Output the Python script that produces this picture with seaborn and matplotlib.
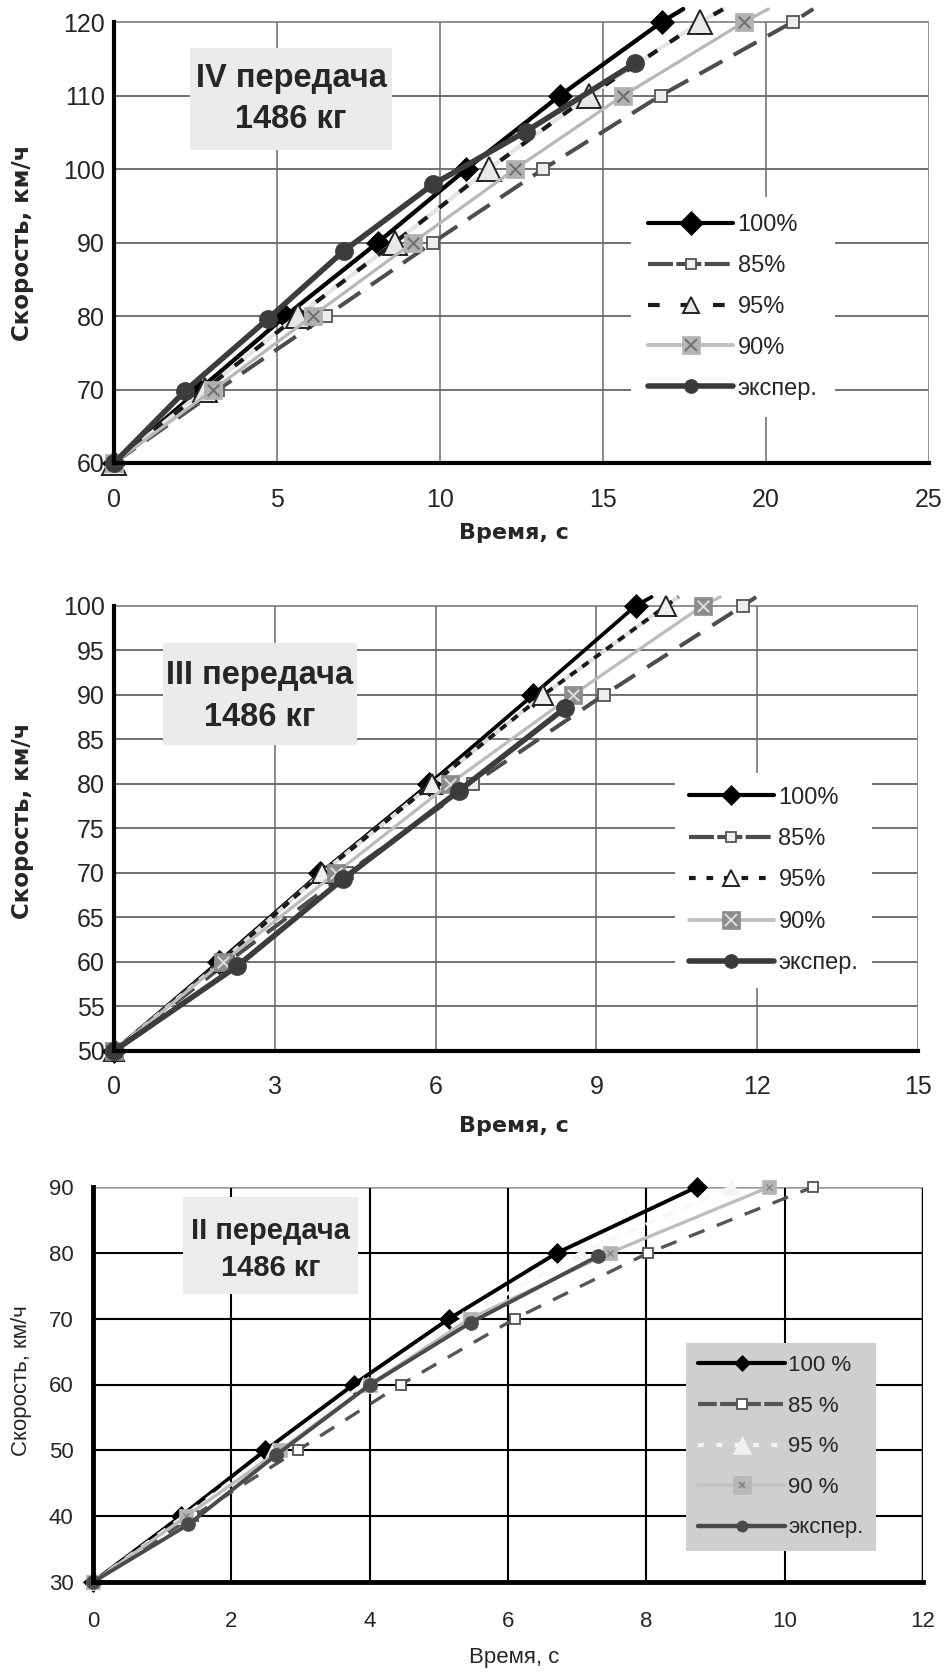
import numpy as np
import pandas as pd
import matplotlib
matplotlib.use("Agg")
import matplotlib.pyplot as plt
import seaborn as sns
from matplotlib.lines import Line2D
from matplotlib.patches import Rectangle
from matplotlib.legend_handler import HandlerTuple

# ---------------- data ----------------
series_names = ["100%", "85%", "95%", "90%", "экспер."]
series_names_ii = ["100 %", "85 %", "95 %", "90 %", "экспер."]

# IV gear (last value = where line leaves the plot area)
v_iv = [60, 70, 80, 90, 100, 110, 120, 121.77]
t_iv_100 = [0, 2.62, 5.26, 8.09, 10.81, 13.68, 16.80, 17.46]
t_iv_85 = [0, 3.20, 6.50, 9.78, 13.17, 16.77, 20.82, 21.45]
t_iv_95 = [0, 2.79, 5.63, 8.61, 11.50, 14.58, 17.98, 18.70]
t_iv_90 = [0, 3.05, 6.09, 9.17, 12.30, 15.62, 19.33, 20.07]
t_iv_exp = [0, 2.18, 4.72, 7.06, 9.78, 12.63, 15.98]
v_iv_exp = [60, 69.8, 79.6, 88.9, 97.9, 105.1, 114.4]

# III gear
v_iii = [50, 60, 70, 80, 90, 100, 101.0]
t_iii_100 = [0, 1.95, 3.85, 5.88, 7.82, 9.73, 10.03]
t_iii_85 = [0, 2.12, 4.35, 6.69, 9.14, 11.73, 11.98]
t_iii_95 = [0, 2.00, 3.88, 5.94, 8.01, 10.30, 10.53]
t_iii_90 = [0, 2.03, 4.14, 6.26, 8.56, 10.98, 11.31]
t_iii_exp = [0, 2.29, 4.27, 6.43, 8.41]
v_iii_exp = [50, 59.5, 69.3, 79.2, 88.5]

# II gear
v_ii = [30, 40, 50, 60, 70, 80, 90]
t_ii_100 = [0, 1.27, 2.49, 3.77, 5.15, 6.71, 8.73]
t_ii_85 = [0, 1.45, 2.96, 4.45, 6.10, 8.03, 10.41]
t_ii_95 = [0, 1.31, 2.60, 3.90, 5.35, 7.05, 9.23]
t_ii_90 = [0, 1.35, 2.70, 4.00, 5.45, 7.47, 9.78]
t_ii_exp = [0, 1.38, 2.65, 4.01, 5.46, 7.30]
v_ii_exp = [30, 38.75, 49.3, 60, 69.4, 79.5]

xticks_iv = [0, 5, 10, 15, 20, 25]
yticks_iv = [60, 70, 80, 90, 100, 110, 120]
xticks_iii = [0, 3, 6, 9, 12, 15]
yticks_iii = [50, 55, 60, 65, 70, 75, 80, 85, 90, 95, 100]
xticks_ii = [0, 2, 4, 6, 8, 10, 12]
yticks_ii = [30, 40, 50, 60, 70, 80, 90]

box_iv = ["IV передача", "1486 кг"]
box_iii = ["III передача", "1486 кг"]
box_ii = ["II передача", "1486 кг"]
xlabel = "Время, с"
ylabel = "Скорость, км/ч"

# ---------------- setup ----------------
W, H = 947, 1673
sns.set_style("white")
plt.rcParams["font.family"] = ["Liberation Sans", "DejaVu Sans"]

fig = plt.figure(figsize=(W / 100, H / 100), dpi=100)


def fx(p):
    return p / W


def fy(p):
    return 1 - p / H


def add_axes(l, r, t, b):
    return fig.add_axes([fx(l), fy(b), (r - l) / W, (b - t) / H])


def line(ax, t, v, color, lw, ls="-", marker=None, ms=0, mfc=None, mec=None,
         mew=0, every=None, z=3):
    sns.lineplot(x=t, y=v, ax=ax, sort=False, estimator=None, color=color,
                 lw=lw, linestyle=ls, marker=marker, markersize=ms,
                 markerfacecolor=mfc, markeredgecolor=mec,
                 markeredgewidth=mew, markevery=every, clip_on=False,
                 zorder=z, legend=False)


def frame(ax, xlim, xticks, ylim, yticks, top_tick, gcol_h, gcol_v, gcol_edge,
          glw, tick_fs, xpad, ypad, spine_lw):
    ax.set_xlim(*xlim)
    ax.set_ylim(*ylim)
    ax.set_xticks(xticks)
    ax.set_yticks(yticks)
    ax.tick_params(length=0, labelsize=tick_fs)
    ax.tick_params(axis="x", pad=xpad)
    ax.tick_params(axis="y", pad=ypad)
    for s in ["top", "right"]:
        ax.spines[s].set_visible(False)
    for s in ["left", "bottom"]:
        ax.spines[s].set_color("black")
        ax.spines[s].set_linewidth(spine_lw)
        ax.spines[s].set_zorder(6)
    ax.spines["left"].set_bounds(ylim[0], top_tick)
    ax.hlines(yticks[1:-1], xlim[0], xlim[1], color=gcol_h, lw=glw, zorder=0.5)
    ax.hlines([yticks[-1]], xlim[0], xlim[1], color=gcol_edge, lw=glw * 1.2, zorder=0.5)
    ax.vlines(xticks[1:-1], ylim[0], top_tick, color=gcol_v, lw=glw, zorder=0.5)
    ax.vlines([xticks[-1]], ylim[0], top_tick, color=gcol_edge, lw=glw * 1.2, zorder=0.5)
    ax.set_xlabel("")
    ax.set_ylabel("")


# ================= Panel 1: IV =================
ax1 = add_axes(114, 929, 9, 463)
frame(ax1, (0, 25), xticks_iv, (60, 121.77), yticks_iv, 120, "#4a4a4a",
      "#6a6a6a", "#8a8a8a", 1.1, 18, 18, 6.5, 3.0)
ev_iv = list(range(len(v_iv) - 1))

line(ax1, t_iv_100, v_iv, "black", 3.1, "-", "D", 12, "black", "black", 0.5, ev_iv, 3)
line(ax1, t_iv_85, v_iv, "#4d4d4d", 2.9, (0, (6.5, 3.2)), "s", 8, "#eeeeee", "#555555", 1.3, ev_iv, 3.1)
line(ax1, t_iv_95, v_iv, "#e4e4e4", 3.0, "-", None, 0, None, None, 0, None, 3.15)
line(ax1, t_iv_95, v_iv, "#1a1a1a", 3.0, (0, (2.6, 3.6)), "^", 17, "#e8e8e8", "#222222", 1.4, ev_iv, 3.2)
line(ax1, t_iv_90, v_iv, "#b8b8b8", 2.3, "-", "s", 12.5, "#b0b0b0", "#b0b0b0", 0.5, ev_iv, 3.3)
sns.scatterplot(x=t_iv_90[:-1], y=v_iv[:-1], ax=ax1, marker="x", s=70,
                color="#6e6e6e", linewidth=1.4, zorder=3.35, clip_on=False, legend=False)
line(ax1, t_iv_exp, v_iv_exp, "#3c3c3c", 4.0, "-", "o", 13, "#3c3c3c", "#3c3c3c", 0.5, None, 3.4)
ax1.set_xlabel("")
ax1.set_ylabel("")

# ================= Panel 2: III =================
ax2 = add_axes(114, 918, 597, 1051)
frame(ax2, (0, 15), xticks_iii, (50, 101.0), yticks_iii, 100, "#4a4a4a",
      "#6a6a6a", "#8a8a8a", 1.1, 18, 17, 6.5, 3.0)
ev_iii = list(range(len(v_iii) - 1))

line(ax2, t_iii_100, v_iii, "black", 2.7, "-", "D", 12, "black", "black", 0.5, ev_iii, 3)
line(ax2, t_iii_85, v_iii, "#4d4d4d", 2.9, (0, (6.0, 3.6)), "s", 8, "#eeeeee", "#555555", 1.3, ev_iii, 3.1)
line(ax2, t_iii_95, v_iii, "#dcdcdc", 2.8, "-", None, 0, None, None, 0, None, 3.15)
line(ax2, t_iii_95, v_iii, "#1a1a1a", 2.8, (0, (2.0, 1.8)), "^", 14, "#eeeeee", "#222222", 1.4, ev_iii, 3.2)
line(ax2, t_iii_90, v_iii, "#bcbcbc", 2.3, "-", "s", 12.5, "#8c8c8c", "#8c8c8c", 0.5, ev_iii, 3.3)
sns.scatterplot(x=t_iii_90[:-1], y=v_iii[:-1], ax=ax2, marker="x", s=70,
                color="#dddddd", linewidth=1.4, zorder=3.35, clip_on=False, legend=False)
line(ax2, t_iii_exp, v_iii_exp, "#3c3c3c", 4.0, "-", "o", 13, "#3c3c3c", "#3c3c3c", 0.5, None, 3.4)
ax2.set_xlabel("")
ax2.set_ylabel("")

# ================= Panel 3: II =================
ax3 = add_axes(93, 923, 1187, 1582)
frame(ax3, (0, 12), xticks_ii, (30, 90), yticks_ii, 90, "black", "black",
      "black", 1.5, 16, 21, 14, 3.5)
ax3.hlines([yticks_ii[-1]], 0, 12, color="#9a9a9a", lw=1.6, zorder=0.6)

line(ax3, t_ii_100, v_ii, "black", 2.8, "-", "D", 10, "black", "black", 0.5, None, 3)
line(ax3, t_ii_85, v_ii, "#555555", 2.4, (0, (5.0, 4.0)), "s", 7, "white", "#505050", 1.3, None, 3.1)
line(ax3, t_ii_95, v_ii, "#f6f6f6", 2.4, (0, (3.0, 3.0)), "^", 12, "#f4f4f4", "#f4f4f4", 0.5, None, 3.2)
line(ax3, t_ii_90, v_ii, "#bdbdbd", 2.4, "-", "s", 10, "#b4b4b4", "#b4b4b4", 0.5, None, 3.3)
sns.scatterplot(x=t_ii_90, y=v_ii, ax=ax3, marker="x", s=20,
                color="#888888", linewidth=1.0, zorder=3.35, clip_on=False, legend=False)
line(ax3, t_ii_exp, v_ii_exp, "#4a4a4a", 2.8, "-", "o", 10, "#4a4a4a", "#4a4a4a", 0.5, None, 3.4)
ax3.set_xlabel("")
ax3.set_ylabel("")


# ---------------- legends ----------------
def handles(cfg):
    out = []
    for c in cfg:
        h = Line2D([], [], color=c["c"], lw=c["lw"], linestyle=c["ls"],
                   marker=c["m"], markersize=c["ms"], markerfacecolor=c["mfc"],
                   markeredgecolor=c["mec"], markeredgewidth=c["mew"])
        if c.get("x"):
            hx = Line2D([], [], linestyle="none", marker="x", markersize=c["xs"],
                        markeredgecolor=c["x"], markeredgewidth=1.4)
            h = (h, hx)
        out.append(h)
    return out


cfg1 = [
    dict(c="black", lw=3.0, ls="-", m="D", ms=12, mfc="black", mec="black", mew=0.5),
    dict(c="#4d4d4d", lw=3.0, ls=(0, (6.0, 0.8)), m="s", ms=7.5, mfc="#eeeeee", mec="#555555", mew=1.3),
    dict(c="#1a1a1a", lw=3.0, ls=(0, (2.8, 5.0)), m="^", ms=12, mfc="#e8e8e8", mec="#222222", mew=1.4),
    dict(c="#c0c0c0", lw=2.8, ls="-", m="s", ms=12.5, mfc="#b4b4b4", mec="#b4b4b4", mew=0.5, x="#707070", xs=9),
    dict(c="#3a3a3a", lw=4.0, ls="-", m="o", ms=10, mfc="#3a3a3a", mec="#3a3a3a", mew=0.5),
]
leg1 = fig.legend(handles(cfg1), series_names, loc="upper left",
                  bbox_to_anchor=(fx(631), fy(197)), bbox_transform=fig.transFigure,
                  borderaxespad=0, fontsize=17, frameon=True, facecolor="white",
                  edgecolor="none", framealpha=1, fancybox=False, borderpad=0.72,
                  labelspacing=0.8, handlelength=3.6, handletextpad=0.2,
                  handler_map={tuple: HandlerTuple(ndivide=1)})

cfg2 = [
    dict(c="black", lw=3.0, ls="-", m="D", ms=10, mfc="black", mec="black", mew=0.5),
    dict(c="#4d4d4d", lw=3.0, ls=(0, (6.0, 0.8)), m="s", ms=6.5, mfc="#eeeeee", mec="#555555", mew=1.3),
    dict(c="#1a1a1a", lw=3.0, ls=(0, (1.6, 2.6)), m="^", ms=12, mfc="white", mec="#222222", mew=1.4),
    dict(c="#c0c0c0", lw=2.8, ls="-", m="s", ms=13, mfc="#8c8c8c", mec="#8c8c8c", mew=0.5, x="#dddddd", xs=9),
    dict(c="#3a3a3a", lw=4.0, ls="-", m="o", ms=10, mfc="#3a3a3a", mec="#3a3a3a", mew=0.5),
]
leg2 = fig.legend(handles(cfg2), series_names, loc="upper left",
                  bbox_to_anchor=(fx(675), fy(773)), bbox_transform=fig.transFigure,
                  borderaxespad=0, fontsize=17, frameon=True, facecolor="white",
                  edgecolor="none", framealpha=1, fancybox=False, borderpad=0.58,
                  labelspacing=0.82, handlelength=3.6, handletextpad=0.2,
                  handler_map={tuple: HandlerTuple(ndivide=1)})

cfg3 = [
    dict(c="black", lw=3.0, ls="-", m="D", ms=8, mfc="black", mec="black", mew=0.5),
    dict(c="#555555", lw=3.0, ls=(0, (4.5, 0.8)), m="s", ms=6.5, mfc="white", mec="#505050", mew=1.3),
    dict(c="#f4f4f4", lw=3.0, ls=(0, (1.4, 3.0)), m="^", ms=13, mfc="#f0f0f0", mec="#f0f0f0", mew=0.5),
    dict(c="#c4c4c4", lw=2.6, ls="-", m="s", ms=13, mfc="#b8b8b8", mec="#b8b8b8", mew=0.5, x="#8a8a8a", xs=5),
    dict(c="#4a4a4a", lw=3.2, ls="-", m="o", ms=8, mfc="#4a4a4a", mec="#4a4a4a", mew=0.5),
]
leg3 = fig.legend(handles(cfg3), series_names_ii, loc="upper left",
                  bbox_to_anchor=(fx(686), fy(1343)), bbox_transform=fig.transFigure,
                  borderaxespad=0, fontsize=16, frameon=True, facecolor="#cfcfcf",
                  edgecolor="none", framealpha=1, fancybox=False, borderpad=0.55,
                  labelspacing=0.88, handlelength=3.9, handletextpad=0.14,
                  handler_map={tuple: HandlerTuple(ndivide=1)})


# ---------------- annotation boxes ----------------
def note(l, r, t, b, lines_txt, y1, y2, fs, col):
    fig.add_artist(Rectangle((fx(l), fy(b)), (r - l) / W, (b - t) / H,
                             transform=fig.transFigure, facecolor=col,
                             edgecolor="none", zorder=2))
    cx = fx((l + r) / 2)
    fig.text(cx, fy(y1), lines_txt[0], ha="center", va="center", fontsize=fs,
             fontweight="bold", zorder=3)
    fig.text(cx, fy(y2), lines_txt[1], ha="center", va="center", fontsize=fs,
             fontweight="bold", zorder=3)


note(190, 392, 48, 150, box_iv, 79, 119, 23.5, "#ebebeb")
note(163, 357, 643, 745, box_iii, 675, 717, 23.5, "#ebebeb")
note(183, 358, 1197, 1294, box_ii, 1231, 1268, 21, "#ececec")

# ---------------- axis titles ----------------
bold_fam = ["DejaVu Sans"]
fig.text(fx(514), fy(533), xlabel, ha="center", va="center", fontsize=16,
         fontweight="bold", family=bold_fam)
fig.text(fx(23), fy(243), ylabel, ha="center", va="center", fontsize=16.5,
         fontweight="bold", family=bold_fam, rotation=90)
fig.text(fx(514), fy(1126), xlabel, ha="center", va="center", fontsize=16,
         fontweight="bold", family=bold_fam)
fig.text(fx(23), fy(821), ylabel, ha="center", va="center", fontsize=16.5,
         fontweight="bold", family=bold_fam, rotation=90)
fig.text(fx(514), fy(1658), xlabel, ha="center", va="center", fontsize=16)
fig.text(fx(21), fy(1381), ylabel, ha="center", va="center", fontsize=16,
         rotation=90)

fig.savefig("out.png", dpi=100)
